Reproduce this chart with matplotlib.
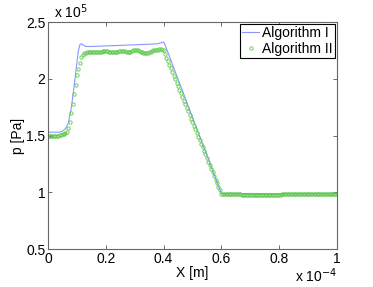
import numpy as np
import matplotlib
matplotlib.use('Agg')
import matplotlib.pyplot as plt
from matplotlib.ticker import FormatStrFormatter

plt.rcParams['font.family'] = ['Liberation Sans', 'DejaVu Sans']

# x in units of 1e-4 m, p in units of 1e5 Pa
x_alg1 = [0.0, 0.04, 0.05, 0.06, 0.07, 0.08, 0.09, 0.10, 0.105, 0.11, 0.115, 0.12,
          0.13, 0.15, 0.20, 0.25, 0.30, 0.35, 0.38, 0.40, 0.405, 0.60, 0.70, 0.80, 0.90, 1.0]
p_alg1 = [1.53, 1.53, 1.54, 1.56, 1.61, 1.74, 1.93, 2.15, 2.25, 2.30, 2.31, 2.30,
          2.285, 2.285, 2.29, 2.295, 2.30, 2.305, 2.31, 2.325, 2.30, 0.99, 0.99, 0.988, 0.99, 0.99]

x_alg2 = np.arange(0, 201) * 0.005
p_alg2 = [
    # 0.000 - 0.130
    1.50, 1.50, 1.50, 1.50, 1.50, 1.50, 1.50, 1.50, 1.505, 1.505,
    1.51, 1.51, 1.52, 1.535, 1.57, 1.62, 1.70, 1.78, 1.87, 1.95,
    2.03, 2.09, 2.14, 2.19, 2.21, 2.225, 2.23,
    # 0.135 - 0.400
    2.235, 2.238, 2.24, 2.24, 2.24, 2.238, 2.235, 2.235, 2.235, 2.237,
    2.24, 2.242, 2.243, 2.243, 2.242, 2.24, 2.238, 2.236, 2.235, 2.236,
    2.238, 2.24, 2.243, 2.245, 2.246, 2.245, 2.243, 2.24, 2.238, 2.238,
    2.24, 2.245, 2.25, 2.253, 2.253, 2.25, 2.245, 2.24, 2.236, 2.232,
    2.23, 2.23, 2.232, 2.236, 2.24, 2.245, 2.25, 2.254, 2.256, 2.258,
    2.26, 2.26, 2.258, 2.25,
    # 0.405 - 0.600
    2.218, 2.187, 2.155, 2.124, 2.092, 2.06, 2.029, 1.997, 1.966, 1.934,
    1.902, 1.871, 1.839, 1.808, 1.776, 1.744, 1.713, 1.681, 1.65, 1.618,
    1.586, 1.555, 1.523, 1.492, 1.46, 1.428, 1.397, 1.365, 1.334, 1.302,
    1.27, 1.239, 1.207, 1.176, 1.144, 1.112, 1.081, 1.049, 1.018, 0.985,
    # 0.605 - 1.000
    0.987, 0.987, 0.986, 0.986, 0.985, 0.985, 0.985, 0.984, 0.984, 0.983,
    0.983, 0.982, 0.982, 0.981, 0.981, 0.98, 0.98, 0.98, 0.98, 0.98,
    0.979, 0.979, 0.979, 0.979, 0.979, 0.98, 0.98, 0.98, 0.98, 0.98,
    0.98, 0.98, 0.98, 0.98, 0.98, 0.98, 0.98, 0.98, 0.981, 0.981,
    0.981, 0.982, 0.982, 0.982, 0.983, 0.983, 0.983, 0.984, 0.984, 0.984,
    0.985, 0.985, 0.985, 0.985, 0.986, 0.986, 0.986, 0.986, 0.986, 0.986,
    0.986, 0.986, 0.986, 0.986, 0.986, 0.986, 0.987, 0.987, 0.987, 0.987,
    0.987, 0.987, 0.987, 0.987, 0.987, 0.987, 0.987, 0.987, 0.987, 0.987,
]

fig = plt.figure(figsize=(3.73, 2.87), dpi=100)
ax = fig.add_axes([0.129, 0.132, 0.774, 0.791])

ax.plot(x_alg1, p_alg1, color='#8898ff', lw=0.8, label='Algorithm I')
ax.plot(x_alg2, p_alg2, 'o', ms=2.4, mfc='none', mec='#5cc84c', mew=0.6,
        label='Algorithm II')

ax.set_xlim(0, 1)
ax.set_ylim(0.5, 2.5)
ax.set_xticks([0, 0.2, 0.4, 0.6, 0.8, 1])
ax.set_yticks([0.5, 1, 1.5, 2, 2.5])
ax.xaxis.set_major_formatter(FormatStrFormatter('%g'))
ax.yaxis.set_major_formatter(FormatStrFormatter('%g'))
ax.tick_params(direction='in', length=3, width=0.6, color='#555555',
               labelsize=10, top=True, right=True, pad=2)
for s in ax.spines.values():
    s.set_color('#666666')
    s.set_linewidth(0.8)

ax.set_xlabel('X [m]', fontsize=10)
ax.xaxis.set_label_coords(0.5, -0.075)
ax.set_ylabel('p [Pa]', fontsize=10)
ax.yaxis.set_label_coords(-0.08, 0.5)

ax.text(0.02, 1.005, r'x 10$^{5}$', transform=ax.transAxes, fontsize=10,
        ha='left', va='bottom')
ax.text(1.0, -0.075, r'x 10$^{-4}$', transform=ax.transAxes, fontsize=10,
        ha='right', va='top')

leg = ax.legend(loc='upper right', fontsize=10, fancybox=False, framealpha=1,
                edgecolor='black', borderpad=0.15, handlelength=1.25,
                handletextpad=0.2, labelspacing=0.15, borderaxespad=0.15)
leg.get_frame().set_linewidth(0.8)

fig.savefig('out.png', dpi=100)
